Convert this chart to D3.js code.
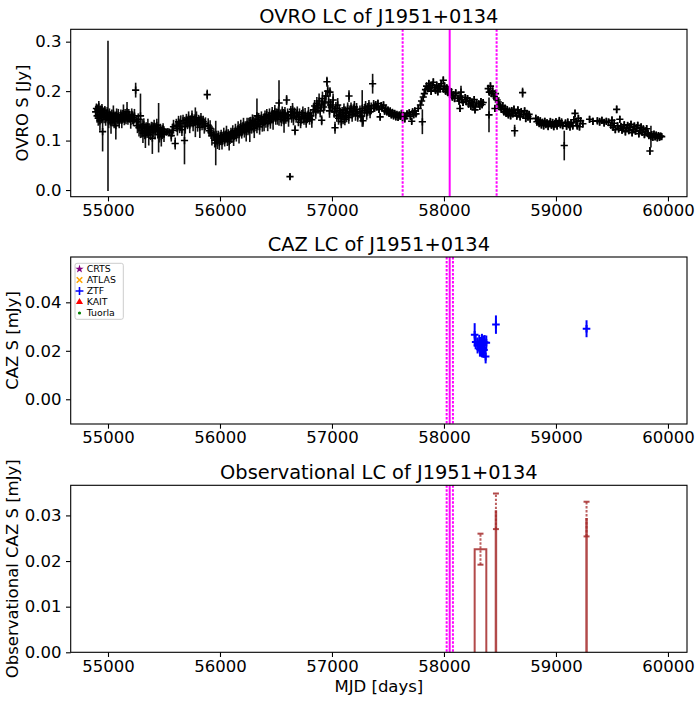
<!DOCTYPE html>
<html>
<head>
<meta charset="utf-8">
<script src="https://cdn.jsdelivr.net/npm/d3@7"></script>
<style>
  body { margin: 0; background: #fff; }
  text { font-family: "DejaVu Sans", sans-serif; }
</style>
</head>
<body>
<div id="chart"></div>
<script>
/* Data */
// OVRO 15 GHz light curve: [MJD, flux Jy, error Jy]
const ovroData = [
  [54890,.158,.012],[54897,.165,.010],[54903,.150,.014],[54908,.162,.011],[54913,.145,.015],[54918,.168,.012],
  [54923,.152,.010],[54928,.140,.020],[54934,.158,.013],[54940,.147,.012],[54946,.163,.011],[54952,.118,.040],
  [54958,.155,.012],[54965,.149,.014],[54972,.160,.010],[54979,.143,.013],[54986,.151,.012],[54993,.157,.011],
  [55000,.150,.152],[55006,.140,.015],[55013,.153,.012],[55020,.145,.014],[55027,.136,.022],[55034,.150,.013],
  [55041,.142,.012],[55048,.155,.016],[55055,.139,.014],[55062,.147,.012],[55070,.130,.028],[55077,.152,.013],
  [55084,.144,.012],[55092,.149,.015],[55100,.138,.013],[55108,.146,.012],[55115,.152,.011],[55123,.141,.016],
  [55130,.149,.013],[55138,.155,.018],[55146,.143,.012],[55153,.150,.014],[55161,.146,.013],[55170,.158,.020],
  [55178,.144,.012],[55186,.151,.013],[55194,.147,.011],[55203,.139,.015],[55212,.153,.012],[55220,.146,.013],
  [55228,.141,.012],[55236,.150,.014],[55247,.202,.015],[55255,.138,.013],[55263,.130,.015],[55270,.143,.012],
  [55277,.126,.018],[55290,.150,.045],[55298,.120,.014],[55305,.128,.016],[55312,.115,.020],[55320,.132,.013],
  [55327,.118,.015],[55334,.110,.025],[55341,.125,.012],[55349,.119,.014],[55356,.128,.016],[55364,.112,.022],
  [55372,.122,.013],[55380,.116,.015],[55388,.126,.012],[55396,.105,.032],[55404,.121,.014],[55412,.129,.013],
  [55420,.118,.016],[55428,.124,.012],[55436,.131,.013],[55444,.119,.015],[55452,.126,.050],[55460,.112,.016],
  [55468,.121,.013],[55476,.108,.020],[55484,.117,.014],[55492,.123,.012],[55500,.113,.016],[55505,.118,.004],
  [55520,.117,.005],[55535,.118,.005],[55550,.117,.005],[55565,.110,.012],[55575,.121,.013],[55585,.128,.014],
  [55600,.094,.012],[55610,.131,.013],[55620,.125,.015],[55630,.138,.012],[55640,.129,.014],[55650,.135,.016],
  [55660,.122,.013],[55670,.140,.012],[55683,.100,.048],[55690,.128,.014],[55700,.142,.012],[55710,.136,.013],
  [55720,.145,.014],[55730,.131,.016],[55740,.139,.012],[55750,.148,.013],[55760,.134,.015],[55770,.141,.012],
  [55780,.137,.030],[55790,.146,.013],[55800,.132,.014],[55810,.140,.012],[55820,.127,.022],[55830,.143,.013],
  [55840,.135,.014],[55850,.138,.012],[55860,.129,.015],[55870,.134,.013],[55886,.193,.010],[55895,.131,.014],
  [55903,.120,.012],[55912,.125,.016],[55920,.116,.013],[55928,.110,.020],[55945,.112,.013],[55953,.101,.015],
  [55962,.095,.045],[55970,.106,.014],[55978,.099,.016],[55986,.108,.012],[55994,.096,.015],[56002,.104,.013],
  [56010,.110,.012],[56018,.098,.016],[56026,.105,.013],[56034,.112,.014],[56042,.101,.013],[56050,.108,.012],
  [56058,.115,.015],[56066,.103,.014],[56074,.111,.012],[56082,.098,.018],[56090,.106,.013],[56098,.114,.012],
  [56106,.109,.014],[56114,.118,.013],[56122,.105,.016],[56130,.113,.012],[56138,.120,.014],[56146,.111,.013],
  [56154,.117,.012],[56162,.124,.015],[56170,.112,.018],[56178,.121,.013],[56186,.128,.014],[56194,.116,.012],
  [56202,.124,.013],[56210,.131,.015],[56218,.120,.014],[56226,.127,.012],[56234,.118,.020],[56242,.133,.013],
  [56250,.125,.014],[56258,.130,.016],[56266,.122,.025],[56274,.136,.012],[56282,.128,.014],[56290,.140,.013],
  [56298,.132,.016],[56306,.125,.020],[56314,.138,.013],[56322,.131,.012],[56330,.150,.035],[56338,.134,.013],
  [56346,.142,.014],[56354,.128,.016],[56362,.139,.012],[56370,.146,.013],[56378,.133,.015],[56386,.141,.012],
  [56394,.137,.018],[56402,.148,.013],[56410,.140,.014],[56418,.152,.012],[56426,.135,.016],[56434,.145,.013],
  [56442,.150,.015],[56450,.138,.014],[56458,.147,.012],[56466,.155,.013],[56474,.142,.020],[56482,.150,.012],
  [56490,.158,.014],[56498,.145,.013],[56506,.153,.012],[56514,.148,.016],[56522,.156,.013],[56527,.176,.046],
  [56540,.150,.013],[56548,.143,.014],[56556,.157,.012],[56564,.149,.015],[56572,.140,.024],[56580,.155,.013],
  [56588,.146,.012],[56595,.182,.010],[56604,.152,.013],[56612,.144,.016],[56625,.027,.006],[56632,.158,.012],
  [56640,.150,.014],[56648,.163,.013],[56656,.146,.015],[56664,.155,.012],[56670,.121,.010],[56680,.149,.013],
  [56690,.157,.012],[56700,.143,.014],[56710,.152,.013],[56720,.137,.012],[56730,.148,.014],[56740,.156,.013],
  [56750,.144,.012],[56760,.151,.015],[56770,.139,.013],[56780,.147,.012],[56790,.154,.014],[56800,.145,.013],
  [56810,.150,.012],[56820,.142,.016],[56835,.162,.013],[56845,.170,.012],[56855,.158,.014],[56865,.175,.013],
  [56875,.166,.012],[56885,.180,.015],[56895,.160,.013],[56905,.172,.012],[56908,.141,.010],[56915,.185,.014],
  [56925,.168,.013],[56935,.176,.016],[56945,.190,.012],[56955,.219,.010],[56962,.200,.012],[56970,.178,.013],
  [56978,.160,.014],[56982,.198,.010],[56986,.172,.012],[57002,.168,.012],[57010,.182,.013],[57020,.158,.012],
  [57027,.126,.012],[57035,.165,.013],[57043,.150,.012],[57051,.172,.014],[57059,.145,.013],[57067,.160,.012],
  [57075,.152,.014],[57083,.138,.013],[57091,.156,.012],[57099,.148,.015],[57107,.162,.013],[57115,.143,.012],
  [57123,.155,.014],[57131,.150,.013],[57140,.165,.012],[57150,.147,.013],[57152,.190,.012],[57160,.158,.013],
  [57170,.165,.012],[57180,.152,.014],[57190,.160,.013],[57200,.168,.012],[57210,.155,.015],[57220,.163,.013],
  [57230,.150,.012],[57250,.158,.013],[57260,.149,.012],[57270,.165,.037],[57277,.140,.012],[57290,.161,.013],
  [57300,.168,.012],[57310,.156,.014],[57320,.163,.013],[57330,.170,.012],[57340,.158,.013],[57350,.165,.012],
  [57363,.215,.020],[57372,.170,.012],[57380,.166,.008],[57390,.172,.008],[57400,.168,.007],[57410,.175,.008],
  [57420,.163,.007],[57430,.148,.008],[57440,.170,.008],[57450,.166,.007],[57460,.172,.007],[57470,.160,.008],
  [57480,.165,.006],[57490,.158,.007],[57500,.162,.006],[57510,.155,.007],[57520,.160,.006],[57530,.152,.007],
  [57540,.157,.006],[57550,.150,.007],[57560,.155,.006],[57570,.148,.007],[57580,.153,.006],[57590,.147,.007],
  [57600,.152,.006],[57610,.149,.007],[57620,.155,.006],[57630,.146,.007],[57640,.151,.006],[57650,.144,.007],
  [57660,.150,.006],[57670,.154,.007],[57690,.156,.007],[57700,.149,.006],[57712,.139,.006],[57720,.158,.007],
  [57730,.152,.006],[57740,.160,.007],[57750,.154,.006],[57770,.165,.006],[57790,.172,.008],[57800,.180,.007],
  [57807,.138,.025],[57815,.188,.007],[57825,.195,.008],[57835,.203,.007],[57845,.210,.008],[57855,.205,.007],
  [57865,.215,.008],[57875,.208,.007],[57885,.200,.008],[57895,.212,.007],[57905,.218,.008],[57915,.207,.007],
  [57925,.202,.008],[57935,.212,.007],[57945,.199,.008],[57955,.209,.007],[57965,.205,.008],[57975,.215,.007],
  [57994,.222,.008],[57995,.204,.007],[58005,.210,.008],[58015,.200,.007],[58025,.206,.008],[58035,.197,.007],
  [58045,.203,.008],[58055,.193,.007],[58065,.198,.008],[58075,.188,.007],[58085,.192,.008],[58095,.185,.007],
  [58105,.196,.008],[58125,.186,.007],[58135,.180,.008],[58143,.165,.007],[58145,.190,.007],[58152,.198,.013],
  [58160,.183,.008],[58170,.177,.007],[58190,.187,.007],[58200,.179,.008],[58210,.185,.007],[58220,.174,.008],
  [58230,.181,.007],[58240,.170,.008],[58250,.178,.007],[58260,.172,.008],[58270,.183,.007],[58277,.162,.007],
  [58280,.168,.008],[58290,.176,.007],[58310,.174,.007],[58320,.170,.008],[58330,.179,.007],[58340,.173,.008],
  [58350,.177,.007],[58395,.205,.008],[58402,.152,.035],[58405,.198,.007],[58415,.210,.008],[58425,.195,.007],
  [58435,.200,.008],[58445,.190,.007],[58455,.165,.007],[58460,.195,.008],[58465,.186,.007],[58475,.182,.008],
  [58485,.178,.007],[58495,.172,.007],[58505,.168,.008],[58515,.163,.007],[58525,.170,.008],[58535,.158,.007],
  [58545,.165,.008],[58555,.155,.007],[58565,.162,.008],[58575,.152,.007],[58585,.159,.008],[58595,.150,.007],
  [58605,.160,.008],[58615,.154,.007],[58625,.163,.008],[58631,.120,.012],[58640,.156,.007],[58650,.150,.008],
  [58660,.162,.007],[58670,.155,.008],[58680,.148,.007],[58690,.158,.008],[58702,.197,.010],[58710,.152,.008],
  [58720,.160,.007],[58730,.145,.008],[58740,.155,.007],[58750,.148,.008],[58760,.153,.007],[58770,.144,.008],
  [58820,.145,.007],[58830,.138,.008],[58840,.142,.007],[58850,.135,.008],[58860,.140,.007],[58870,.132,.008],
  [58880,.137,.007],[58890,.130,.008],[58900,.139,.007],[58910,.133,.008],[58920,.136,.007],[58930,.129,.008],
  [58940,.134,.007],[58950,.138,.008],[58960,.131,.007],[58970,.136,.008],[58980,.128,.007],[58990,.134,.008],
  [59000,.138,.007],[59010,.130,.008],[59020,.135,.007],[59030,.140,.008],[59040,.132,.007],[59050,.137,.008],
  [59060,.130,.007],[59074,.090,.030],[59085,.135,.008],[59095,.129,.007],[59105,.137,.008],[59115,.132,.007],
  [59125,.128,.008],[59135,.136,.007],[59150,.130,.008],[59160,.142,.007],[59170,.155,.008],[59180,.138,.007],
  [59190,.130,.008],[59200,.145,.007],[59210,.128,.008],[59220,.140,.007],[59240,.134,.008],[59300,.143,.007],
  [59330,.139,.007],[59370,.140,.007],[59390,.138,.008],[59410,.141,.007],[59430,.136,.008],[59450,.139,.007],
  [59470,.137,.008],[59490,.131,.007],[59500,.141,.008],[59510,.127,.007],[59520,.135,.008],[59530,.122,.007],
  [59542,.163,.008],[59550,.130,.007],[59560,.124,.008],[59570,.143,.007],[59580,.128,.008],[59590,.121,.007],
  [59600,.126,.008],[59610,.132,.007],[59620,.118,.008],[59630,.125,.007],[59640,.130,.008],[59650,.120,.007],
  [59660,.127,.008],[59670,.133,.007],[59680,.116,.008],[59690,.123,.007],[59700,.129,.008],[59710,.119,.007],
  [59720,.125,.008],[59730,.131,.007],[59740,.114,.008],[59750,.121,.007],[59760,.127,.008],[59770,.117,.007],
  [59780,.123,.008],[59790,.112,.007],[59800,.119,.008],[59810,.124,.007],[59820,.115,.008],[59830,.110,.007],
  [59839,.079,.008],[59848,.108,.022],[59855,.112,.007],[59865,.107,.008],[59875,.113,.007],[59885,.108,.008],
  [59895,.111,.007],[59905,.106,.008],[59915,.110,.007],[59925,.107,.008],[59935,.109,.007],[59944,.108,.006]
];

// ZTF optical points (mJy)
const ztfMjd  = [58274, 58283, 58315, 58321, 58328, 58339, 58339, 58351, 58357, 58363, 58372, 58378, 58300, 58345, 58464, 59273];
const ztfFlux = [0.0266, 0.0236, 0.0231, 0.0206, 0.0217, 0.0236, 0.0203, 0.0227, 0.0203, 0.0235, 0.0176, 0.0233, 0.0222, 0.0212, 0.0308, 0.0291];
const ztfErr  = [0.0048, 0.0030, 0.0035, 0.0030, 0.0040, 0.0034, 0.0030, 0.0036, 0.0032, 0.0030, 0.0028, 0.0030, 0.0033, 0.0038, 0.0038, 0.0035];

// Observational binned light curve
const obsStart = [58274, 58462, 59271];
const obsEnd   = [58378, 58466, 59275];
const obsFlux  = [0.0226, 0.0309, 0.0292];
const obsErr   = [0.0034, 0.0039, 0.0038];

// Flare epoch and windows
const flareMjd = 58051;
const ovroWindow = [57631, 58470];
const cazWindow = [58024, 58080];

const legendNames  = ['CRTS', 'ATLAS', 'ZTF', 'KAIT', 'Tuorla'];
const legendColors = ['purple', 'orange', 'blue', 'red', 'green'];
const legendShapes = [d3.symbolStar, d3.symbolTimes, d3.symbolPlus, d3.symbolTriangle, d3.symbolCircle];

const xTicks = [55000, 56000, 57000, 58000, 59000, 60000];

/* Layout */
const width = 700, height = 702;
const left = 70.7, right = 687;
const fontSize = 16.5, titleSize = 19.4;

const panels = [
  { top: 29.3, bottom: 196.7, ylim: [-0.0135, 0.325], ticks: [0, 0.1, 0.2, 0.3], fmt: '.1f',
    title: 'OVRO LC of J1951+0134', ylabel: 'OVRO S [Jy]', labelX: 28 },
  { top: 257, bottom: 424, ylim: [-0.0102, 0.0587], ticks: [0, 0.02, 0.04], fmt: '.2f',
    title: 'CAZ LC of J1951+0134', ylabel: 'CAZ S [mJy]', labelX: 18 },
  { top: 485.3, bottom: 652.3, ylim: [0, 0.0366], ticks: [0, 0.01, 0.02, 0.03], fmt: '.2f',
    title: 'Observational LC of J1951+0134', ylabel: 'Observational CAZ S [mJy]', labelX: 18 }
];

const x = d3.scaleLinear().domain([54667, 60170]).range([left, right]);

const svg = d3.select('#chart').append('svg')
  .attr('width', width)
  .attr('height', height);

panels.forEach(p => {
  p.y = d3.scaleLinear().domain(p.ylim).range([p.bottom, p.top]);
  p.g = svg.append('g');
  p.plot = p.g.append('g');
});

function drawFlareLines(p, win) {
  win.forEach(m => {
    p.plot.append('line')
      .attr('x1', x(m)).attr('x2', x(m))
      .attr('y1', p.top).attr('y2', p.bottom)
      .attr('stroke', '#ff00ff').attr('stroke-width', 2)
      .attr('stroke-dasharray', '2.4,1.6');
  });
  p.plot.append('line')
    .attr('x1', x(flareMjd)).attr('x2', x(flareMjd))
    .attr('y1', p.top).attr('y2', p.bottom)
    .attr('stroke', '#ff00ff').attr('stroke-width', 2);
}

function plus(g, cx, cy, size, color, sw) {
  g.append('path')
    .attr('d', `M${cx - size},${cy}H${cx + size}M${cx},${cy - size}V${cy + size}`)
    .attr('stroke', color).attr('stroke-width', sw).attr('fill', 'none');
}

/* Panel 1: OVRO */
{
  const p = panels[0];
  const bars = p.plot.append('g');
  ovroData.forEach(d => {
    bars.append('line')
      .attr('x1', x(d[0])).attr('x2', x(d[0]))
      .attr('y1', p.y(d[1] - d[2])).attr('y2', p.y(d[1] + d[2]))
      .attr('stroke', '#111').attr('stroke-width', 1.6);
  });
  const marks = p.plot.append('g');
  ovroData.forEach(d => plus(marks, x(d[0]), p.y(d[1]), 3.6, '#000', 1.6));
  drawFlareLines(p, ovroWindow);
}

/* Panel 2: CAZ optical */
{
  const p = panels[1];
  drawFlareLines(p, cazWindow);
  ztfMjd.forEach((m, i) => {
    p.plot.append('line')
      .attr('x1', x(m)).attr('x2', x(m))
      .attr('y1', p.y(ztfFlux[i] - ztfErr[i])).attr('y2', p.y(ztfFlux[i] + ztfErr[i]))
      .attr('stroke', 'blue').attr('stroke-width', 2);
    plus(p.plot, x(m), p.y(ztfFlux[i]), 3.8, 'blue', 2);
  });

  // legend
  const lg = p.g.append('g').attr('transform', `translate(75,${p.top + 6.3})`);
  lg.append('rect')
    .attr('width', 48.3).attr('height', 56)
    .attr('rx', 2)
    .attr('fill', 'white').attr('fill-opacity', 0.8)
    .attr('stroke', '#cccccc').attr('stroke-width', 1);
  legendNames.forEach((name, i) => {
    const cy = 5.7 + i * 11;
    const isLine = legendShapes[i] === d3.symbolTimes || legendShapes[i] === d3.symbolPlus;
    const size = legendShapes[i] === d3.symbolCircle ? 8 : 22;
    lg.append('path')
      .attr('transform', `translate(4.5,${cy})`)
      .attr('d', d3.symbol(legendShapes[i], size)())
      .attr('fill', isLine ? 'none' : legendColors[i])
      .attr('stroke', isLine ? legendColors[i] : 'none')
      .attr('stroke-width', 1.6);
    lg.append('text')
      .attr('x', 11.7).attr('y', cy + 3.4)
      .attr('font-size', 9.4)
      .text(name);
  });
}

/* Panel 3: observational bins */
{
  const p = panels[2];
  drawFlareLines(p, cazWindow);
  obsStart.forEach((s, i) => {
    p.plot.append('path')
      .attr('d', `M${x(s)},${p.bottom}V${p.y(obsFlux[i])}H${x(obsEnd[i])}V${p.bottom}`)
      .attr('fill', 'none')
      .attr('stroke', 'brown').attr('stroke-opacity', 0.85).attr('stroke-width', 2);
  });
  obsStart.forEach((s, i) => {
    const cx = x((s + obsEnd[i]) / 2);
    const lo = p.y(obsFlux[i] - obsErr[i]), hi = p.y(obsFlux[i] + obsErr[i]);
    p.plot.append('line')
      .attr('x1', cx).attr('x2', cx).attr('y1', lo).attr('y2', hi)
      .attr('stroke', 'brown').attr('stroke-opacity', 0.75).attr('stroke-width', 2)
      .attr('stroke-dasharray', '2.4,1.6');
    [lo, hi].forEach(yy => {
      p.plot.append('line')
        .attr('x1', cx - 3).attr('x2', cx + 3).attr('y1', yy).attr('y2', yy)
        .attr('stroke', 'brown').attr('stroke-opacity', 0.85).attr('stroke-width', 2);
    });
  });
}

/* Axes, titles, labels */
panels.forEach(p => {
  p.g.append('g')
    .attr('transform', `translate(0,${p.bottom})`)
    .call(d3.axisBottom(x).tickValues(xTicks).tickFormat(d3.format('d')).tickSize(4.7).tickPadding(3).tickSizeOuter(0))
    .call(g => g.select('.domain').remove());
  p.g.append('g')
    .attr('transform', `translate(${left},0)`)
    .call(d3.axisLeft(p.y).tickValues(p.ticks).tickFormat(d3.format(p.fmt)).tickSize(4.7).tickPadding(4.5).tickSizeOuter(0))
    .call(g => g.select('.domain').remove());

  p.g.append('rect')
    .attr('x', left).attr('y', p.top)
    .attr('width', right - left).attr('height', p.bottom - p.top)
    .attr('fill', 'none').attr('stroke', '#000').attr('stroke-width', 1.1);

  p.g.append('text')
    .attr('x', (left + right) / 2).attr('y', p.top - 6)
    .attr('text-anchor', 'middle')
    .attr('font-size', titleSize)
    .text(p.title);

  p.g.append('text')
    .attr('transform', `translate(${p.labelX},${(p.top + p.bottom) / 2}) rotate(-90)`)
    .attr('text-anchor', 'middle')
    .attr('font-size', fontSize)
    .text(p.ylabel);
});

svg.selectAll('.tick text')
  .attr('font-family', '"DejaVu Sans", sans-serif')
  .attr('font-size', fontSize)
  .attr('fill', '#000');
svg.selectAll('.tick line').attr('stroke', '#000').attr('stroke-width', 1.1);

svg.append('text')
  .attr('x', (left + right) / 2).attr('y', 692)
  .attr('text-anchor', 'middle')
  .attr('font-size', fontSize)
  .text('MJD [days]');
</script>
</body>
</html>
